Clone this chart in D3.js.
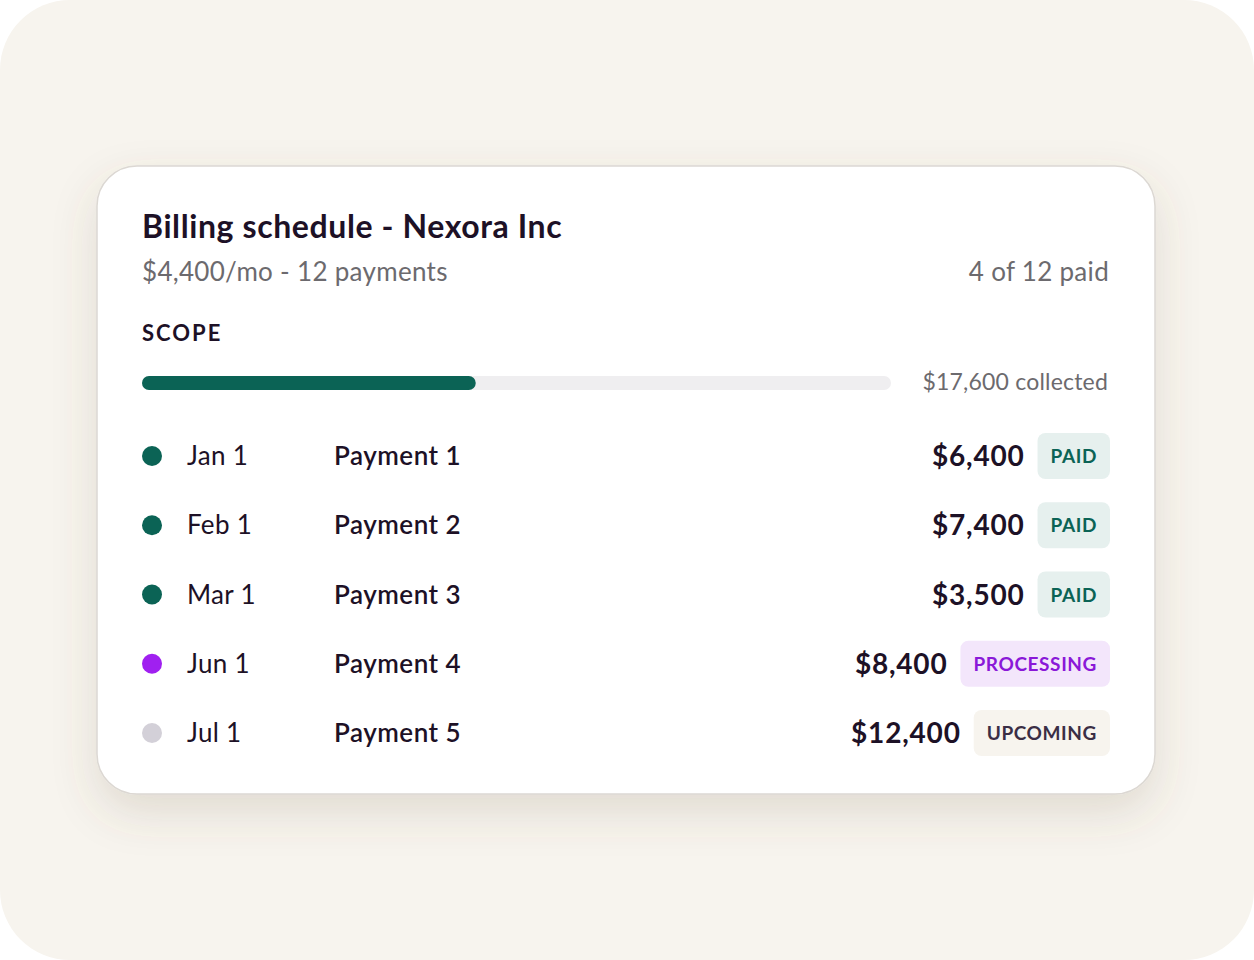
<!DOCTYPE html>
<html><head><meta charset="utf-8">
<script src="https://cdn.jsdelivr.net/npm/d3@7"></script>
<style>body{margin:0;background:#fff}svg{display:block}</style>
</head><body>
<svg id="chart" width="1254" height="960"></svg>
<script>
const dates = ["Jan 1", "Feb 1", "Mar 1", "Jun 1", "Jul 1"];
const payments = ["Payment 1", "Payment 2", "Payment 3", "Payment 4", "Payment 5"];
const amounts = [6400, 7400, 3500, 8400, 12400];
const statuses = ["PAID", "PAID", "PAID", "PROCESSING", "UPCOMING"];
const collected = 17600;
const scopeTotal = 39500;

const W = 1254, H = 960;
const svg = d3.select("#chart");
const font = "Lato, 'Open Sans', sans-serif";
const ink = "#1d1126";

const defs = svg.append("defs");
const f = defs.append("filter").attr("id", "sh").attr("x", "-20%").attr("y", "-20%").attr("width", "140%").attr("height", "150%");
f.append("feDropShadow").attr("dx", 0).attr("dy", 18).attr("stdDeviation", 22).attr("flood-color", "#6b5a40").attr("flood-opacity", 0.16);

svg.append("rect").attr("width", W).attr("height", H).attr("rx", 70).attr("fill", "#f7f4ee");
svg.append("rect").attr("x", 97).attr("y", 166).attr("width", 1058).attr("height", 628).attr("rx", 40)
  .attr("fill", "#fff").attr("stroke", "#dcd8d3").attr("stroke-width", 1.5).attr("filter", "url(#sh)");

const t = (x, y, s, size, weight, fill, anchor) => svg.append("text").attr("x", x).attr("y", y).text(s)
  .attr("font-family", font).attr("font-size", size).attr("font-weight", weight).attr("fill", fill)
  .attr("text-anchor", anchor || "start");

t(142, 238, "Billing schedule - Nexora Inc", 32, 700, ink).attr("letter-spacing", 0.6);
t(142, 281, "$4,400/mo - 12 payments", 26, 400, "#6c6a6e").attr("letter-spacing", 0.3);
t(1109, 281, "4 of 12 paid", 26, 400, "#6c6a6e", "end").attr("letter-spacing", 0.3);
t(142, 341, "SCOPE", 22, 700, ink).attr("letter-spacing", 2);

const fmt = d3.format("$,");
const x = d3.scaleLinear().domain([0, scopeTotal]).range([142, 891]);
svg.append("rect").attr("x", x(0)).attr("y", 376).attr("width", x(scopeTotal) - x(0)).attr("height", 14).attr("rx", 7).attr("fill", "#efeef0");
svg.append("rect").attr("x", x(0)).attr("y", 376).attr("width", x(collected) - x(0)).attr("height", 14).attr("rx", 7).attr("fill", "#0b6355");
t(1108, 390, fmt(collected) + " collected", 23, 400, "#6c6a6e", "end").attr("letter-spacing", 0.2);

const y = d3.scalePoint().domain(d3.range(dates.length)).range([456, 733]);
const style = {
  PAID: {bg: "#e6f0ee", fg: "#0b6355", dot: "#0b6355"},
  PROCESSING: {bg: "#f3e6fb", fg: "#8a18d8", dot: "#a020f0"},
  UPCOMING: {bg: "#f7f4ee", fg: "#3a2e45", dot: "#d3d0d8"}
};

dates.forEach((d, i) => {
  const cy = y(i), st = style[statuses[i]];
  svg.append("circle").attr("cx", 152).attr("cy", cy).attr("r", 10).attr("fill", st.dot);
  t(187, cy + 9, d, 26, 400, ink).attr("letter-spacing", 0.3);
  t(334, cy + 9, payments[i], 26, 600, ink).attr("letter-spacing", 0.5);
  const lbl = t(0, cy + 7, statuses[i], 19, 700, st.fg).attr("letter-spacing", 0.6);
  const tw = lbl.node().getComputedTextLength();
  const bw = tw + 26, bx = 1110 - bw;
  svg.insert("rect", "text:last-of-type").attr("x", bx).attr("y", cy - 23).attr("width", bw).attr("height", 46).attr("rx", 8).attr("fill", st.bg);
  lbl.attr("x", bx + 13);
  t(bx - 13, cy + 10, fmt(amounts[i]), 28, 700, ink, "end").attr("letter-spacing", 0.8);
});
</script>
</body></html>
